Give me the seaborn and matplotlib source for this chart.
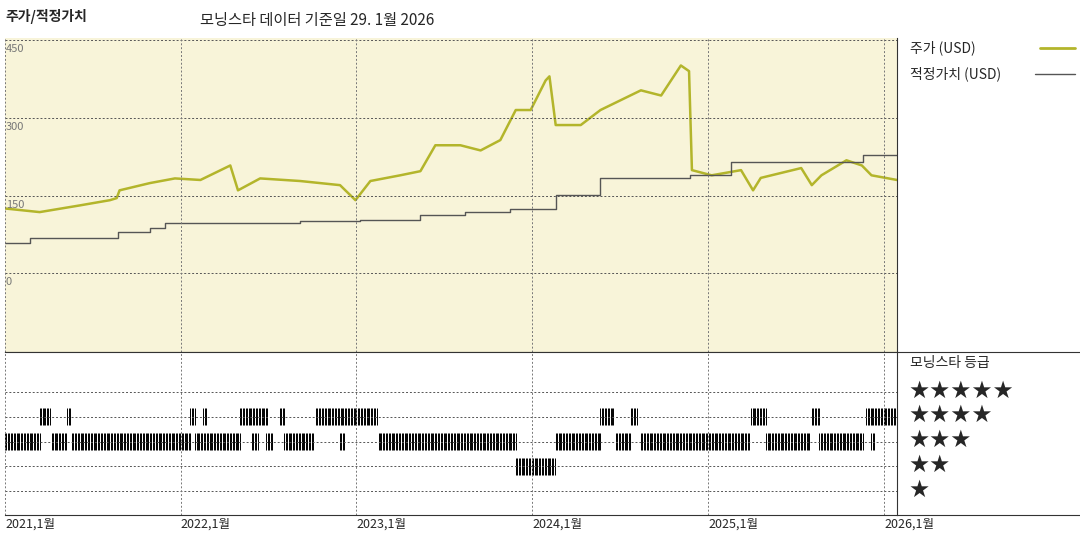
import numpy as np
import pandas as pd
import matplotlib
matplotlib.use("Agg")
import matplotlib.pyplot as plt
import matplotlib.dates as mdates
import seaborn as sns

sns.set_style("white")
plt.rcParams["font.family"] = ["Noto Sans CJK KR", "DejaVu Sans"]

# price (USD)
price_dates = ["2021-01-01", "2021-03-14", "2021-06-06", "2021-08-07", "2021-08-21", "2021-08-27",
               "2021-10-29", "2021-12-20", "2022-02-11", "2022-04-14", "2022-04-30", "2022-06-15",
               "2022-09-06", "2022-11-28", "2022-12-30", "2023-01-30", "2023-04-02", "2023-05-14",
               "2023-06-14", "2023-08-05", "2023-09-16", "2023-10-27", "2023-11-28", "2023-12-29",
               "2024-01-29", "2024-02-06", "2024-02-19", "2024-04-11", "2024-05-22", "2024-07-03",
               "2024-08-14", "2024-09-25", "2024-11-05", "2024-11-22", "2024-11-28", "2025-01-08",
               "2025-03-10", "2025-04-04", "2025-04-20", "2025-07-13", "2025-08-04", "2025-08-24",
               "2025-10-15", "2025-11-16", "2025-12-06", "2026-01-28"]
price_vals = [125, 118, 131, 141, 145, 160, 174, 183, 180, 208, 160, 183,
              178, 170, 141, 178, 189, 197, 247, 247, 237, 257, 315, 315,
              372, 380, 286, 286, 315, 334, 353, 343, 401, 390, 199, 189,
              199, 160, 184, 203, 170, 189, 218, 208, 189, 180]

# fair value (USD), step changes
fv_dates = ["2021-01-01", "2021-02-22", "2021-08-24", "2021-10-29", "2021-11-29", "2022-09-06",
            "2023-01-09", "2023-05-14", "2023-08-15", "2023-11-17", "2024-02-19", "2024-05-22",
            "2024-11-25", "2025-02-18", "2025-11-19", "2026-01-28"]
fv_vals = [58, 68, 79, 88, 97, 100, 103, 112, 118, 124, 151, 183, 189, 214, 228, 228]

# star rating periods: (start, end, stars)
rating_start = ["2021-03-14", "2021-05-10", "2022-01-21", "2022-02-17", "2022-05-04", "2022-07-26",
                "2022-10-09", "2024-05-22", "2024-07-24", "2025-03-31", "2025-08-04", "2025-11-25",
                "2021-01-01", "2021-04-08", "2021-05-20", "2022-01-31", "2022-05-29", "2022-06-28",
                "2022-08-04", "2022-11-28", "2023-02-16", "2024-02-19", "2024-06-23", "2024-08-14",
                "2025-05-01", "2025-08-20", "2025-12-06", "2023-11-28"]
rating_end = ["2021-04-04", "2021-05-16", "2022-01-31", "2022-02-23", "2022-07-01", "2022-08-04",
              "2023-02-12", "2024-06-18", "2024-08-06", "2025-05-01", "2025-08-20", "2026-01-28",
              "2021-03-14", "2021-05-10", "2022-01-21", "2022-05-04", "2022-06-11", "2022-07-10",
              "2022-10-03", "2022-12-08", "2023-11-28", "2024-05-22", "2024-07-24", "2025-03-27",
              "2025-07-30", "2025-11-19", "2025-12-14", "2024-02-19"]
rating_stars = [4] * 12 + [3] * 15 + [2]

year_ticks = ["2021-01-01", "2022-01-01", "2023-01-01", "2024-01-01", "2025-01-01", "2026-01-01"]
year_labels = ["2021,1월", "2022,1월", "2023,1월", "2024,1월", "2025,1월", "2026,1월"]

price = pd.DataFrame({"date": pd.to_datetime(price_dates), "price": price_vals})
fv = pd.DataFrame({"date": pd.to_datetime(fv_dates), "fv": fv_vals})

olive = "#b3b52b"
fig = plt.figure(figsize=(10.8, 5.4), dpi=100)
ax = fig.add_axes([5 / 1080, 1 - 352 / 540, 892 / 1080, 314 / 540])
ax2 = fig.add_axes([5 / 1080, 1 - 515 / 540, 892 / 1080, 163 / 540], sharex=ax)

xmin, xmax = pd.Timestamp("2021-01-01"), pd.Timestamp("2026-01-28")
ax.set_facecolor("#f8f4d9")
sns.lineplot(data=price, x="date", y="price", ax=ax, color=olive, lw=1.8)
ax.step(fv["date"], fv["fv"], where="post", color="#555555", lw=1)
ax.set_ylim(-152, 454)
ax.set_xlim(xmin, xmax)
for v in [0, 150, 300, 450]:
    ax.axhline(v, color="#555555", ls=(0, (2, 2)), lw=0.7)
    ax.text(xmin + pd.Timedelta(days=2), v - 8, str(v), va="top", fontsize=8, color="#777777")
ax.set_xlabel("")
ax.set_ylabel("")
ax.set_yticks([])
ax.tick_params(labelbottom=False, bottom=False)
ax.spines["top"].set_visible(False)

for s, e, r in zip(rating_start, rating_end, rating_stars):
    days = pd.date_range(s, e, freq="3D")
    ax2.vlines(days, r - 0.35, r + 0.35, color="black", lw=0.7)
for r in range(1, 6):
    ax2.axhline(r, color="#555555", ls=(0, (2, 2)), lw=0.7)
ax2.set_ylim(0.03, 6.62)
ax2.set_yticks([])

for a in (ax, ax2):
    for t in year_ticks:
        a.axvline(pd.Timestamp(t), color="#777777", ls=(0, (2, 2)), lw=0.7)
    for sp in a.spines.values():
        sp.set_color("#333333")
        sp.set_linewidth(0.8)
    a.spines["left"].set_visible(False)

ax2.set_xticks(pd.to_datetime(year_ticks))
ax2.set_xticklabels(year_labels, ha="left", fontsize=9)
ax2.tick_params(axis="x", length=0, pad=2)
ax2.set_xlabel("")

# right-hand box lines
fig.add_artist(plt.Line2D([897 / 1080, 1], [1 - 352 / 540] * 2, color="#333333", lw=0.8))
fig.add_artist(plt.Line2D([897 / 1080, 1], [1 - 515 / 540] * 2, color="#333333", lw=0.8))

fig.text(5 / 1080, 1 - 17 / 540, "주가/적정가치", fontsize=10, fontweight="bold", va="center")
fig.text(200 / 1080, 1 - 20 / 540, "모닝스타 데이터 기준일 29. 1월 2026", fontsize=11, va="center")

fig.text(910 / 1080, 1 - 48 / 540, "주가 (USD)", fontsize=10, va="center")
fig.add_artist(plt.Line2D([1040 / 1080, 1075 / 1080], [1 - 48 / 540] * 2, color=olive, lw=2))
fig.text(910 / 1080, 1 - 74 / 540, "적정가치 (USD)", fontsize=10, va="center")
fig.add_artist(plt.Line2D([1035 / 1080, 1075 / 1080], [1 - 74 / 540] * 2, color="#555555", lw=1))

fig.text(910 / 1080, 1 - 363 / 540, "모닝스타 등급", fontsize=10, va="center")
for i, y in enumerate([391, 415, 440, 465, 490]):
    fig.text(908 / 1080, 1 - y / 540, "★" * (5 - i), fontsize=17, va="center",
             family="DejaVu Sans")

fig.savefig("out.png", dpi=100)
